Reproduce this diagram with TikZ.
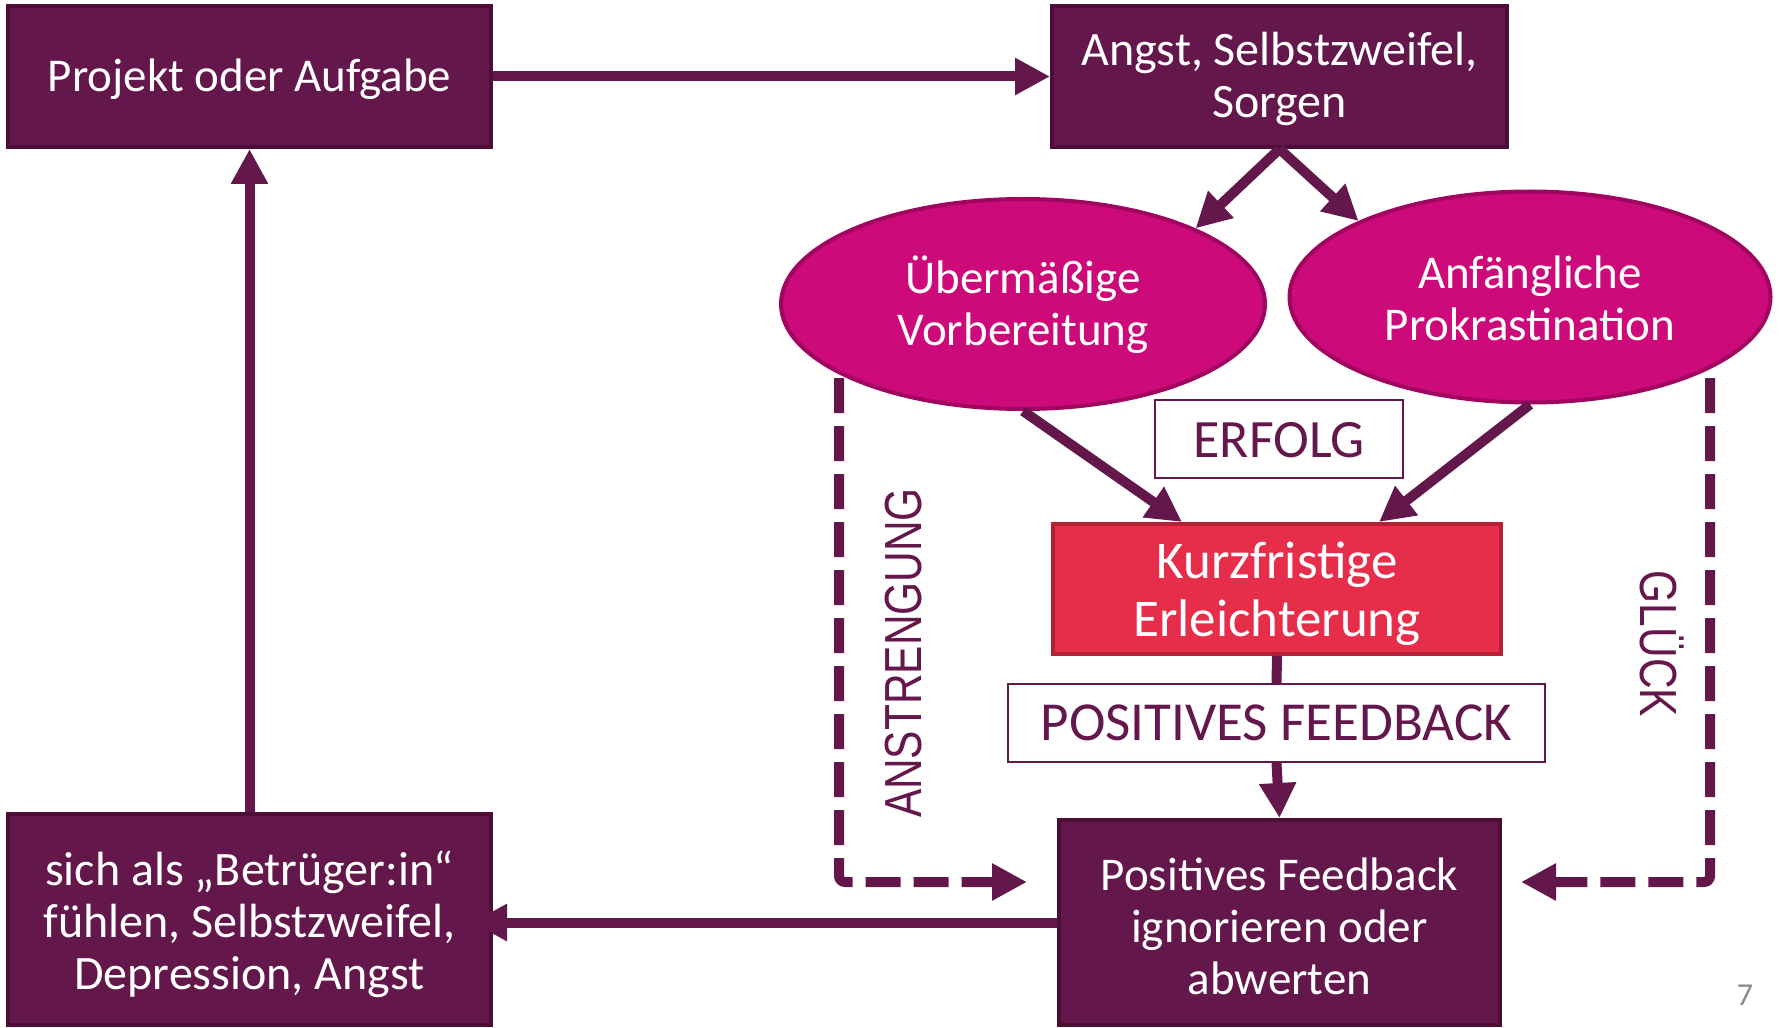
\documentclass[tikz,border=0pt]{standalone}
\usepackage{fontspec}
\setmainfont{Carlito}
\newfontfamily\labelfont{Liberation Sans}
\usetikzlibrary{arrows.meta,shapes.geometric,calc}
\definecolor{plum}{HTML}{63174B}
\definecolor{plumdark}{HTML}{4C0D37}
\definecolor{magen}{HTML}{CC0A7A}
\definecolor{magendark}{HTML}{A0065F}
\definecolor{redfill}{HTML}{E62E4B}
\definecolor{reddark}{HTML}{B42036}
\definecolor{pagegray}{HTML}{8C8C8C}
\newcommand\lowtext[2]{\raisebox{#1}[\height][\depth]{\begin{tabular}{@{}c@{}}#2\end{tabular}}}
\begin{document}
\begin{tikzpicture}[x=0.5pt,y=-0.5pt,
  darkbox/.style={rectangle, fill=plum, draw=plumdark, line width=2pt, text=white, align=center, inner sep=0pt, font=\fontsize{23.5}{26}\selectfont},
  oval/.style={ellipse, fill=magen, draw=magendark, line width=2pt, text=white, align=center, inner sep=0pt, font=\fontsize{23.5}{26}\selectfont},
  redbox/.style={rectangle, fill=redfill, draw=reddark, line width=2pt, text=white, align=center, inner sep=0pt, font=\fontsize{26.5}{29}\selectfont},
  tagbox/.style={rectangle, fill=white, draw=plum, line width=1pt, text=plum, inner sep=0pt, font=\fontsize{27}{30}\selectfont},
  conn/.style={draw=plum, line width=5pt, -{Triangle[length=17.5pt,width=17.5pt]}},
  plainconn/.style={draw=plum, line width=5pt},
  dashconn/.style={draw=plum, line width=5pt, dash pattern=on 17.5pt off 6.5pt, rounded corners=3pt, -{Triangle[length=17.5pt,width=17.5pt]}},
  sidelabel/.style={text=plum, inner sep=0pt, font=\labelfont\fontsize{21.2}{24}\selectfont}
]
\useasboundingbox (0,0) rectangle (1781,1027);
\fill[white] (0,0) rectangle (1781,1027);

\node[darkbox, minimum width=241.5pt, minimum height=70.5pt] (b1) at (249.5,76.5) {\lowtext{-2.3pt}{Projekt oder Aufgabe}};
\node[darkbox, minimum width=227.5pt, minimum height=70.5pt] (b2) at (1279.5,76.5) {\lowtext{-2.3pt}{\fontsize{24}{26}\selectfont Angst, Selbstzweifel,\\\fontsize{24}{26}\selectfont Sorgen}};
\node[oval, minimum width=242pt, minimum height=105pt] (e1) at (1023,304) {\lowtext{-2.4pt}{Übermäßige\\Vorbereitung}};
\node[oval, minimum width=240.5pt, minimum height=105.5pt] (e2) at (1530,297) {\lowtext{-3.5pt}{Anfängliche\\Prokrastination}};
\node[tagbox, minimum width=124pt, minimum height=39pt] (erf) at (1279,439) {\lowtext{-3.3pt}{ERFOLG}};
\node[redbox, minimum width=224pt, minimum height=65pt] (rb) at (1277,589) {\lowtext{-3.5pt}{Kurzfristige\\Erleichterung}};
\node[tagbox, minimum width=268.5pt, minimum height=39pt, font=\fontsize{27.5}{30}\selectfont] (pf) at (1276.5,723) {POSITIVES FEEDBACK};
\node[darkbox, minimum width=220.5pt, minimum height=102.5pt] (fb) at (1279.5,922.5) {\lowtext{-4.8pt}{Positives Feedback\\ignorieren oder\\abwerten}};
\node[darkbox, minimum width=241.5pt, minimum height=105.5pt, font=\fontsize{24}{26}\selectfont] (b4) at (249.5,919.5) {\lowtext{-3.8pt}{sich als „Betrüger:in“\\fühlen, Selbstzweifel,\\Depression, Angst}};

\node[sidelabel, rotate=90] (anst) at (904,653) {\scalebox{1}[1.23]{ANSTRENGUNG}};
\node[sidelabel, rotate=-90] (glueck) at (1662,644) {\scalebox{1}[1.23]{GLÜCK}};
\node[text=pagegray, inner sep=0pt, font=\fontsize{16}{18}\selectfont] (pg) at (1745,995) {7};

\draw[conn] (b1.east) -- (b2.west);
\draw[conn] (b2.south) -- (e1.north east);
\draw[conn] (b2.south) -- (e2.north west);
\draw[conn] (e1.south) -- ($(rb.north)+(-95,0)$);
\draw[conn] (e2.south) -- ($(rb.north)+(102,0)$);
\draw[plainconn] (rb.south) -- (pf.north);
\draw[conn] (pf.south) -- (fb.north);
\draw[conn, shorten >=-10.5pt] (fb.west) -- (fb.west -| b4.east);
\draw[conn] (b4.north) -- (b1.south);

\coordinate (dl) at (839,378);
\coordinate (dle) at (1027,882);
\coordinate (dr) at (1710,378);
\coordinate (dre) at (1521,882);
\draw[dashconn] (dl) |- (dle);
\draw[dashconn] (dr) |- (dre);
\end{tikzpicture}
\end{document}
